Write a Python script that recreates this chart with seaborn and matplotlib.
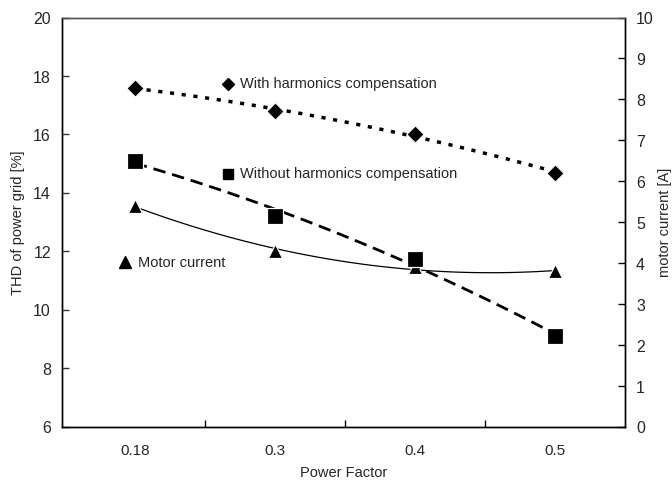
import matplotlib
matplotlib.use("Agg")
import matplotlib.pyplot as plt
import seaborn as sns
import numpy as np

categories = ["0.18", "0.3", "0.4", "0.5"]
thd_with = [17.6, 16.8, 16.0, 14.7]
thd_without = [15.1, 13.2, 11.75, 9.1]
motor_current = [5.4, 4.3, 3.9, 3.8]
left_ticks = [6, 8, 10, 12, 14, 16, 18, 20]
right_ticks = list(range(0, 11))

sns.set_theme(style="ticks")
plt.rcParams['font.family'] = ['Liberation Sans', 'DejaVu Sans']

fig = plt.figure(figsize=(6.72, 4.815), dpi=100)
ax = fig.add_axes([62/672, 1-427/481, (625-62)/672, (427-18)/481])
ax2 = ax.twinx()
ax.set_zorder(ax2.get_zorder() + 1)
ax.patch.set_visible(False)

pos = np.arange(len(categories))

# trend lines (quadratic fits)
sns.regplot(x=pos, y=thd_with, order=2, ci=None, scatter=False, ax=ax,
            line_kws=dict(color="black", lw=2.5, dashes=(1.2, 2.2)))
sns.regplot(x=pos, y=thd_without, order=2, ci=None, scatter=False, ax=ax,
            line_kws=dict(color="black", lw=2.0, dashes=(4.5, 2.5)))
sns.regplot(x=pos, y=motor_current, order=2, ci=None, scatter=False, ax=ax2,
            line_kws=dict(color="black", lw=0.9))

# markers
sns.scatterplot(x=pos, y=thd_with, marker="D", s=75, color="black", ax=ax, zorder=5)
sns.scatterplot(x=pos, y=thd_without, marker="s", s=120, color="black", ax=ax, zorder=5)
sns.scatterplot(x=pos, y=motor_current, marker="^", s=100, color="black", ax=ax2, zorder=5)

ax.set_xlim(-0.52, 3.5)
ax.set_ylim(6, 20)
ax2.set_ylim(0, 10)
ax.set_yticks(left_ticks)
ax2.set_yticks(right_ticks)

ax.set_xticks([0.5, 1.5, 2.5])
ax.set_xticklabels([])
ax.set_xticks(pos, minor=True)
ax.set_xticklabels(categories, minor=True)

for a in (ax, ax2):
    for sp in a.spines.values():
        sp.set_visible(True)
        sp.set_color("black")
        sp.set_linewidth(1.0)
    a.grid(False)
ax.spines["top"].set_color("#555555")
ax2.spines["top"].set_color("#555555")

ax.set_xlabel("Power Factor", fontsize=10.5, labelpad=6)
ax.set_ylabel("THD of power grid [%]", fontsize=10.5, labelpad=6)
ax2.set_ylabel("motor current [A]", fontsize=10.5, labelpad=3)

# inline legend
ax.plot([0.665], [17.74], marker="D", ms=6, color="black", ls="none")
ax.text(0.75, 17.74, "With harmonics compensation", fontsize=10.5, va="center", ha="left")
ax.plot([0.665], [14.66], marker="s", ms=7, color="black", ls="none")
ax.text(0.75, 14.66, "Without harmonics compensation", fontsize=10.5, va="center", ha="left")
ax.plot([-0.07], [11.64], marker="^", ms=8, color="black", ls="none")
ax.text(0.02, 11.64, "Motor current", fontsize=10.5, va="center", ha="left")

ax.yaxis.set_ticks_position("left")
ax2.yaxis.set_ticks_position("right")
ax.tick_params(axis="x", which="major", direction="in", length=5, width=1, color="black", bottom=True)
ax.tick_params(axis="x", which="minor", length=0, pad=12, labelsize=11, bottom=True)
ax.tick_params(axis="y", which="major", direction="in", length=5, width=1, color="#333333",
               labelsize=11.5, pad=8, left=True, labelleft=True)
ax2.tick_params(axis="y", which="major", direction="in", length=5, width=1, color="black",
                labelsize=11.5, pad=8, right=True, labelright=True)

fig.savefig("out.png", dpi=100, facecolor="white")
